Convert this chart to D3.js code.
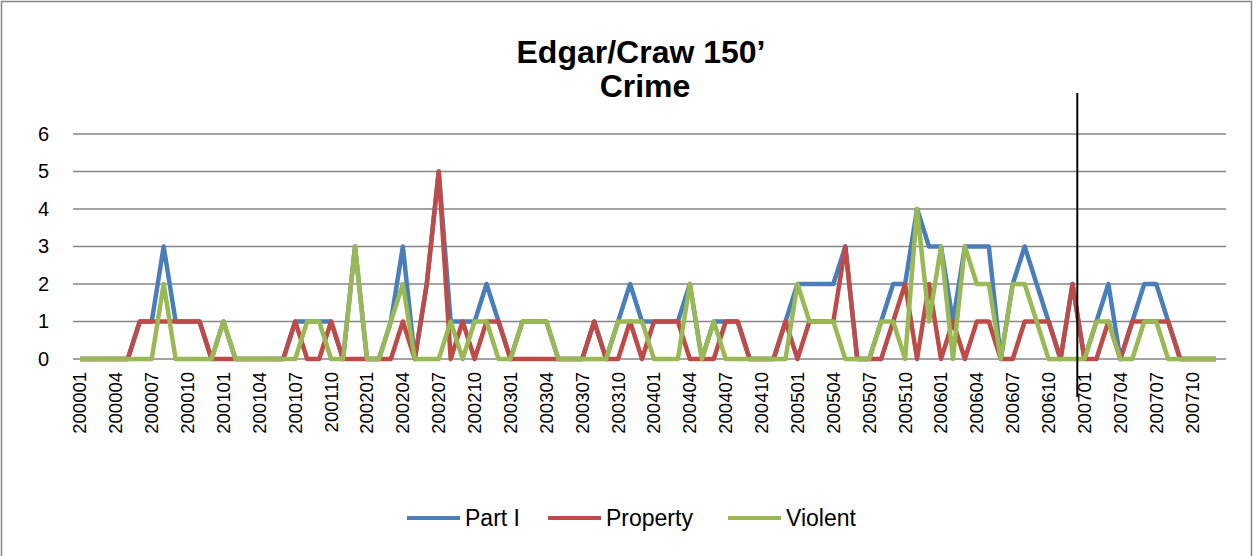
<!DOCTYPE html>
<html>
<head>
<meta charset="utf-8">
<script src="https://cdn.jsdelivr.net/npm/d3@7"></script>
<style>
  body { margin: 0; background: #fff; }
  text { font-family: "Liberation Sans", Arial, sans-serif; }
</style>
</head>
<body>
<script>
// monthly categories 200001 .. 200712
const months = [
  "200001","200002","200003","200004","200005","200006","200007","200008","200009","200010","200011","200012",
  "200101","200102","200103","200104","200105","200106","200107","200108","200109","200110","200111","200112",
  "200201","200202","200203","200204","200205","200206","200207","200208","200209","200210","200211","200212",
  "200301","200302","200303","200304","200305","200306","200307","200308","200309","200310","200311","200312",
  "200401","200402","200403","200404","200405","200406","200407","200408","200409","200410","200411","200412",
  "200501","200502","200503","200504","200505","200506","200507","200508","200509","200510","200511","200512",
  "200601","200602","200603","200604","200605","200606","200607","200608","200609","200610","200611","200612",
  "200701","200702","200703","200704","200705","200706","200707","200708","200709","200710","200711","200712"
];

const partI = [0,0,0,0,0,1,1,3,1,1, 1,0,1,0,0,0,0,0,1,1, 1,1,0,3,0,0,1,3,0,2,
  5,1,1,1,2,1,0,1,1,1, 0,0,0,1,0,1,2,1,1,1, 1,2,0,1,1,1,0,0,0,1,
  2,2,2,2,3,0,0,1,2,2, 4,3,3,1,3,3,3,0,2,3, 2,1,0,2,0,1,2,0,1,2, 2,1,0,0,0,0];

const property = [0,0,0,0,0,1,1,1,1,1, 1,0,0,0,0,0,0,0,1,0, 0,1,0,0,0,0,0,1,0,2,
  5,0,1,0,1,1,0,0,0,0, 0,0,0,1,0,0,1,0,1,1, 1,0,0,0,1,1,0,0,0,1,
  0,1,1,1,3,0,0,0,1,2, 0,2,0,1,0,1,1,0,0,1, 1,1,0,2,0,0,1,0,1,1, 1,1,0,0,0,0];

const violent = [0,0,0,0,0,0,0,2,0,0, 0,0,1,0,0,0,0,0,0,1, 1,0,0,3,0,0,1,2,0,0,
  0,1,0,1,1,0,0,1,1,1, 0,0,0,0,0,1,1,1,0,0, 0,2,0,1,0,0,0,0,0,0,
  2,1,1,1,0,0,0,1,1,0, 4,1,3,0,3,2,2,0,2,2, 1,0,0,0,0,1,1,0,0,1, 1,0,0,0,0,0];

const yTicks = [0, 1, 2, 3, 4, 5, 6];
const seriesNames = ["Part I", "Property", "Violent"];
const colors = ["#4a7ebb", "#be4b48", "#98b954"];

const width = 1253;
const height = 556;

const svg = d3.select("body").append("svg")
  .attr("width", width)
  .attr("height", height);

// chart frame
svg.append("rect")
  .attr("x", 1.5).attr("y", 1.5)
  .attr("width", width - 3).attr("height", height + 10)
  .attr("fill", "none")
  .attr("stroke", "#868686")
  .attr("stroke-width", 1.5);

const xscale = d3.scaleBand()
  .domain(months)
  .range([74, 1222])
  .padding(0);

const yscale = d3.scaleLinear()
  .domain([0, 6])
  .range([359, 134]);

const xpos = d => xscale(d) + xscale.bandwidth() / 2;

// grid lines
svg.append("g")
  .selectAll("line")
  .data(yTicks)
  .enter()
  .append("line")
  .attr("x1", 73).attr("x2", 1226)
  .attr("y1", d => yscale(d)).attr("y2", d => yscale(d))
  .attr("stroke", "#868686")
  .attr("stroke-width", 1.5);

// y axis
const yaxis = d3.axisLeft(yscale)
  .tickValues(yTicks)
  .tickFormat(d3.format("d"))
  .tickSize(0)
  .tickPadding(0);

svg.append("g")
  .attr("transform", "translate(49, 0)")
  .call(yaxis)
  .call(g => g.select(".domain").remove())
  .selectAll("text")
  .attr("font-size", "20px")
  .attr("font-family", "Liberation Sans, Arial, sans-serif")
  .attr("fill", "#000");

// x axis
const xaxis = d3.axisBottom(xscale)
  .tickValues(months.filter((d, i) => i % 3 === 0))
  .tickSize(0);

svg.append("g")
  .attr("transform", "translate(0, 359)")
  .call(xaxis)
  .call(g => g.select(".domain").remove())
  .selectAll("text")
  .attr("font-size", "18.5px")
  .attr("font-family", "Liberation Sans, Arial, sans-serif")
  .attr("fill", "#000")
  .attr("text-anchor", "end")
  .attr("transform", "rotate(-90)")
  .attr("x", -13)
  .attr("y", 0)
  .attr("dy", "0.35em");

// series lines
const line = d3.line()
  .x((d, i) => xpos(months[i]))
  .y(d => yscale(d));

[partI, property, violent].forEach((s, k) => {
  svg.append("path")
    .datum(s)
    .attr("fill", "none")
    .attr("stroke", colors[k])
    .attr("stroke-width", 4.5)
    .attr("stroke-linejoin", "round")
    .attr("d", line);
});

// marker line between 200612 and 200701
const markX = xscale("200612") + xscale.bandwidth() * 0.9;
svg.append("line")
  .attr("x1", markX).attr("x2", markX)
  .attr("y1", 93).attr("y2", 397)
  .attr("stroke", "#000")
  .attr("stroke-width", 2);

// title
svg.append("text")
  .attr("x", 641)
  .attr("y", 63)
  .attr("text-anchor", "middle")
  .attr("font-size", "32px")
  .attr("font-weight", "bold")
  .text("Edgar/Craw 150\u2019");

svg.append("text")
  .attr("x", 645)
  .attr("y", 97)
  .attr("text-anchor", "middle")
  .attr("font-size", "32px")
  .attr("font-weight", "bold")
  .text("Crime");

// legend
const legendX = [407, 548, 728];
const legend = svg.append("g");
seriesNames.forEach((name, k) => {
  legend.append("line")
    .attr("x1", legendX[k]).attr("x2", legendX[k] + 53)
    .attr("y1", 518).attr("y2", 518)
    .attr("stroke", colors[k])
    .attr("stroke-width", 4);
  legend.append("text")
    .attr("x", legendX[k] + 58)
    .attr("y", 526)
    .attr("font-size", "23px")
    .attr("fill", "#000")
    .text(name);
});
</script>
</body>
</html>
